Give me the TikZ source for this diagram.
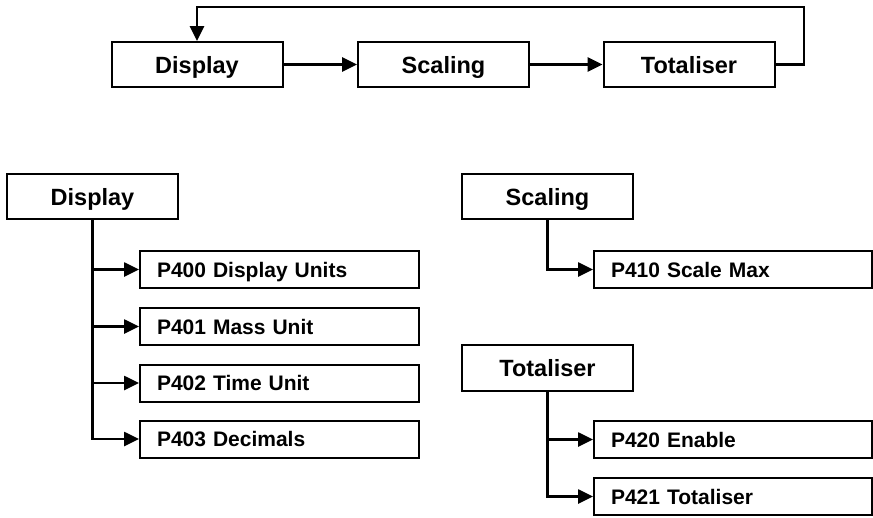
\documentclass[tikz,border=0pt]{standalone}
\usepackage{fontspec}
\setmainfont{Liberation Sans}
\usetikzlibrary{arrows.meta}
\begin{document}
\begin{tikzpicture}[x=1pt,y=-1pt,
  head/.style={draw=black,line width=2pt,minimum width=171pt,minimum height=45pt,inner sep=0pt,
    text height=17.5pt,text depth=0pt,
    font=\fontsize{23.5}{28}\selectfont\bfseries},
  item/.style={draw=black,line width=2pt,text width=245pt,inner xsep=17pt,inner ysep=0pt,
    text height=15pt,text depth=0pt,
    minimum height=37pt,align=left,font=\fontsize{21}{25}\selectfont\bfseries},
  arr/.style={line width=2.6pt,-{Triangle[length=15pt,width=14pt]}}]
\useasboundingbox (0,0) rectangle (873,517);
% top row
\node[head] (tD) at (197,64.5) {Display};
\node[head] (tS) at (443.5,64.5) {Scaling};
\node[head] (tT) at (689,64.5) {Totaliser};
\coordinate (c1) at (804,64.5);
\coordinate (c2) at (804,7);
\coordinate (c3) at (197,7);
\draw[arr] (tD) -- (tS);
\draw[arr] (tS) -- (tT);
\draw[arr,line join=miter] (tT.east) -- (c1) -- (c2) -- (c3) -- (tD.north);
% Display group
\node[head] (bD) at (92.5,196.5) {Display};
\node[item] (p400) at (279.5,269.5) {P400 Display Units};
\node[item] (p401) at (279.5,326.5) {P401 Mass Unit};
\node[item] (p402) at (279.5,383) {P402 Time Unit};
\node[item] (p403) at (279.5,439) {P403 Decimals};
\draw[arr] (bD.south) |- (p403.west);
\draw[arr] (bD.south |- p400.west) -- (p400.west);
\draw[arr] (bD.south |- p401.west) -- (p401.west);
\draw[arr] (bD.south |- p402.west) -- (p402.west);
% Scaling group
\node[head] (bS) at (547.5,196.5) {Scaling};
\node[item,text width=244pt] (p410) at (733,269.5) {P410 Scale Max};
\draw[arr] (bS.south) |- (p410.west);
% Totaliser group
\node[head,minimum height=46pt] (bT) at (547.5,368) {Totaliser};
\node[item,text width=244pt] (p420) at (733,439.5) {P420 Enable};
\node[item,text width=244pt] (p421) at (733,496.5) {P421 Totaliser};
\draw[arr] (bT.south) |- (p421.west);
\draw[arr] (bT.south |- p420.west) -- (p420.west);
\end{tikzpicture}
\end{document}
